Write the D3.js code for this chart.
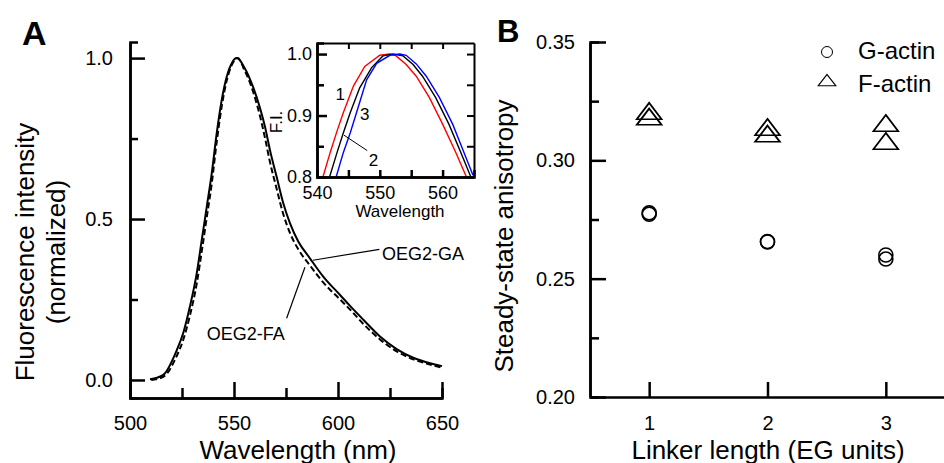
<!DOCTYPE html>
<html lang="en">
<head>
<meta charset="UTF-8" />
<title>index</title>
<script src="https://d3js.org/d3.v7.min.js"></script>
<style>
  body { margin: 0; background: white; }
  svg { display: block; font-family: "Liberation Sans", Arial, sans-serif; }
  .axis path, .axis line { stroke: black; }
</style>
</head>
<body>
<div id="chart"></div>
<script>
// ---- panel A: emission spectra (normalized) ----
var gaWave = [509.6, 516.0, 522.5, 525.6, 528.8, 532.1, 534.5, 536.9, 539.3, 541.7, 544.1, 546.5, 549.0, 551.3,
              553.0, 554.5, 557.0, 559.3, 562.5, 564.9, 567.3, 570.5, 573.7, 576.9, 580.9, 586.5, 592.9, 601.0, 605.8,
              612.2, 620.2, 628.2, 636.2, 644.2, 650.0];
var gaValue = [0.002, 0.016, 0.093, 0.146, 0.228, 0.332, 0.435, 0.538, 0.642, 0.767, 0.870, 0.942, 0.985, 1.000,
               0.992, 0.976, 0.945, 0.908, 0.845, 0.787, 0.714, 0.631, 0.549, 0.487, 0.430, 0.378, 0.321, 0.264, 0.230,
               0.187, 0.135, 0.096, 0.069, 0.052, 0.043];
var faWave = [510.2, 516.0, 522.5, 525.6, 528.8, 532.1, 534.5, 536.9, 539.3, 541.7, 544.1, 546.5, 549.2, 551.8,
              553.2, 554.5, 557.0, 559.3, 562.5, 564.9, 567.3, 570.5, 573.7, 576.9, 580.9, 586.5, 592.9, 601.0, 605.8,
              612.2, 620.2, 628.2, 636.2, 644.2, 650.0];
var faValue = [0.000, 0.010, 0.075, 0.125, 0.200, 0.300, 0.400, 0.505, 0.610, 0.740, 0.850, 0.930, 0.982, 1.000,
               0.990, 0.970, 0.935, 0.893, 0.820, 0.752, 0.677, 0.594, 0.515, 0.457, 0.406, 0.356, 0.303, 0.250, 0.219,
               0.174, 0.126, 0.089, 0.064, 0.048, 0.038];

// inset: zoom on the peak, three constructs
var inset1Wave = [540.95, 542.1, 543.2, 544.2, 545.8, 547.6, 550.0, 551.6, 552.6, 554.2, 555.8, 557.9, 560.0, 562.1, 563.8];
var inset1Value = [0.800, 0.840, 0.875, 0.905, 0.948, 0.980, 0.998, 1.000, 0.997, 0.983, 0.964, 0.929, 0.886, 0.840, 0.800];
var inset2Wave = [542.0, 543.2, 544.2, 545.3, 546.8, 548.7, 550.5, 552.1, 553.7, 555.3, 556.8, 558.9, 561.0, 562.9, 564.5];
var inset2Value = [0.800, 0.840, 0.872, 0.905, 0.945, 0.978, 0.997, 1.000, 0.997, 0.983, 0.964, 0.929, 0.886, 0.840, 0.800];
var inset3Wave = [543.05, 544.2, 545.3, 546.3, 547.9, 549.5, 551.6, 553.2, 554.2, 555.8, 557.4, 559.5, 561.6, 563.4, 564.84];
var inset3Value = [0.800, 0.840, 0.872, 0.905, 0.958, 0.985, 0.998, 1.000, 0.998, 0.984, 0.964, 0.929, 0.886, 0.840, 0.803];

// ---- panel B: anisotropy vs linker length ----
var linker = [1, 1, 2, 2, 3, 3];
var gActin = [0.2778, 0.2772, 0.2657, 0.2655, 0.2600, 0.2583];
var fActin = [0.3197, 0.3173, 0.3129, 0.3101, 0.3146, 0.3070];

var yTicksA = [0, 0.5, 1.0], yMinorA = [0.25, 0.75];
var xTicksA = [500, 550, 600, 650], xMinorA = [525, 575, 625];
var yTicksB = [0.20, 0.25, 0.30, 0.35], yMinorB = [0.225, 0.275, 0.325];
var xTicksB = [1, 2, 3];

var svg = d3.select("#chart").append("svg")
    .attr("width", 944).attr("height", 463);

function zip(xs, ys) { return xs.map(function(x, i) { return [x, ys[i]]; }); }

// ================= panel A =================
var xA = d3.scaleLinear().domain([500, 650]).range([130, 442]);
var yA = d3.scaleLinear().domain([-0.056, 1.05]).range([398, 42]);

var lineA = d3.line()
    .x(function(d) { return xA(d[0]); })
    .y(function(d) { return yA(d[1]); })
    .curve(d3.curveMonotoneX);

svg.append("path").datum(zip(faWave, faValue))
    .attr("d", lineA).attr("fill", "none").attr("stroke", "black")
    .attr("stroke-width", 2).attr("stroke-dasharray", "6,3");
svg.append("path").datum(zip(gaWave, gaValue))
    .attr("d", lineA).attr("fill", "none").attr("stroke", "black")
    .attr("stroke-width", 2);

// axes
svg.append("g").attr("class", "axis").attr("transform", "translate(130,0)")
    .call(d3.axisLeft(yA).tickValues(yMinorA).tickSize(-8).tickFormat(""));
svg.append("g").attr("class", "axis").attr("transform", "translate(130,0)")
    .call(d3.axisLeft(yA).tickValues(yTicksA).tickSizeInner(-15).tickSizeOuter(0)
      .tickPadding(17).tickFormat(d3.format(".1f")));
svg.append("g").attr("class", "axis").attr("transform", "translate(0,398)")
    .call(d3.axisBottom(xA).tickValues(xMinorA).tickSize(-10).tickFormat(""));
svg.append("g").attr("class", "axis").attr("transform", "translate(0,398)")
    .call(d3.axisBottom(xA).tickValues(xTicksA).tickSizeInner(-16).tickSizeOuter(0)
      .tickPadding(18));

// annotations
svg.append("line")
    .attr("x1", xA(619.9)).attr("y1", yA(0.406))
    .attr("x2", xA(588.0)).attr("y2", yA(0.372))
    .attr("stroke", "black").attr("stroke-width", 1.2);
svg.append("text").attr("x", xA(621.2)).attr("y", yA(0.373))
    .attr("font-size", 18).text("OEG2-GA");
svg.append("line")
    .attr("x1", xA(584.1)).attr("y1", yA(0.35))
    .attr("x2", xA(575.3)).attr("y2", yA(0.192))
    .attr("stroke", "black").attr("stroke-width", 1.2);
svg.append("text").attr("x", xA(536.9)).attr("y", yA(0.124))
    .attr("font-size", 18).text("OEG2-FA");

// axis titles
svg.append("text").attr("x", 22).attr("y", 45)
    .attr("font-size", 34).attr("font-weight", "bold").text("A");
svg.append("text").attr("x", 298).attr("y", 459).attr("text-anchor", "middle")
    .attr("font-size", 26).text("Wavelength (nm)");
var ylab = svg.append("text").attr("transform", "translate(34,252) rotate(-90)")
    .attr("text-anchor", "middle").attr("font-size", 26);
ylab.append("tspan").attr("x", 0).attr("y", 0).text("Fluorescence intensity");
ylab.append("tspan").attr("x", 0).attr("y", 31).text("(normalized)");

// ---- inset ----
var xI = d3.scaleLinear().domain([540, 565]).range([317, 474]);
var yI = d3.scaleLinear().domain([0.8, 1.018]).range([177, 43]);

svg.append("clipPath").attr("id", "insetClip").append("rect")
    .attr("x", 317).attr("y", 43).attr("width", 157).attr("height", 134);

var lineI = d3.line()
    .x(function(d) { return xI(d[0]); })
    .y(function(d) { return yI(d[1]); });

var insetSeries = [
  { color: "#ff0000", pts: zip(inset1Wave, inset1Value) },
  { color: "#000000", pts: zip(inset2Wave, inset2Value) },
  { color: "#0000ff", pts: zip(inset3Wave, inset3Value) }
];
svg.append("g").attr("clip-path", "url(#insetClip)")
  .selectAll("path").data(insetSeries).enter().append("path")
    .attr("d", function(d) { return lineI(d.pts); })
    .attr("fill", "none").attr("stroke", function(d) { return d.color; })
    .attr("stroke-width", 1.4);

var insetX = [545, 550, 555, 560], insetXLab = [540, 550, 560];
var insetY = [0.85, 0.95], insetYLab = [0.8, 0.9, 1.0];

svg.append("g").attr("class", "axis").attr("transform", "translate(0,177)")
    .call(d3.axisBottom(xI).tickValues(insetX).tickSize(-7).tickFormat(""));
svg.append("g").attr("class", "axis").attr("transform", "translate(0,177)")
    .call(d3.axisBottom(xI).tickValues(insetXLab).tickSize(0).tickPadding(9))
    .selectAll("text").attr("font-size", 18);
svg.append("g").attr("class", "axis").attr("transform", "translate(0,43)")
    .call(d3.axisTop(xI).tickValues(insetX).tickSize(-6).tickSizeOuter(0).tickFormat(""))
    .attr("data-w", 2);
svg.append("g").attr("class", "axis").attr("transform", "translate(317,0)")
    .call(d3.axisLeft(yI).tickValues(insetY).tickSize(-7).tickFormat(""));
svg.append("g").attr("class", "axis").attr("transform", "translate(317,0)")
    .call(d3.axisLeft(yI).tickValues(insetYLab).tickSizeInner(-10).tickSizeOuter(0)
      .tickPadding(5).tickFormat(d3.format(".1f")))
    .selectAll("text").attr("font-size", 18);
svg.append("g").attr("class", "axis").attr("transform", "translate(474,0)")
    .call(d3.axisRight(yI).tickValues(insetY.concat(insetYLab)).tickSize(-7).tickSizeOuter(0).tickFormat(""))
    .attr("data-w", 2);

svg.append("text").attr("transform", "translate(282,122) rotate(-90)")
    .attr("text-anchor", "middle").attr("font-size", 17).text("F.I.");
svg.append("text").attr("x", 400).attr("y", 217).attr("text-anchor", "middle")
    .attr("font-size", 17).text("Wavelength");
svg.append("text").attr("x", xI(543.7)).attr("y", yI(0.925)).attr("text-anchor", "middle")
    .attr("font-size", 17).text("1");
svg.append("text").attr("x", xI(547.6)).attr("y", yI(0.892)).attr("text-anchor", "middle")
    .attr("font-size", 17).text("3");
svg.append("line")
    .attr("x1", xI(544.3)).attr("y1", yI(0.868))
    .attr("x2", xI(548.0)).attr("y2", yI(0.843))
    .attr("stroke", "black").attr("stroke-width", 1);
svg.append("text").attr("x", xI(549.0)).attr("y", yI(0.818)).attr("text-anchor", "middle")
    .attr("font-size", 17).text("2");

// ================= panel B =================
var xB = d3.scaleLinear().domain([0.5, 3.5]).range([590, 945]);
var yB = d3.scaleLinear().domain([0.20, 0.35]).range([397, 42]);

svg.append("g").attr("class", "axis").attr("transform", "translate(590,0)")
    .call(d3.axisLeft(yB).tickValues(yMinorB).tickSize(-9).tickFormat(""));
svg.append("g").attr("class", "axis").attr("transform", "translate(590,0)")
    .call(d3.axisLeft(yB).tickValues(yTicksB).tickSizeInner(-16).tickSizeOuter(0)
      .tickPadding(15).tickFormat(d3.format(".2f")));
svg.append("g").attr("class", "axis").attr("transform", "translate(0,397)")
    .call(d3.axisBottom(xB).tickValues(xTicksB).tickSizeInner(-15).tickSizeOuter(0)
      .tickPadding(19).tickFormat(d3.format("d")));

svg.selectAll(".axis path, .axis line").attr("stroke-width", 2.5);
svg.selectAll(".axis[data-w] path, .axis[data-w] line").attr("stroke-width", 2);
svg.selectAll(".axis text").filter(function() { return !this.getAttribute("font-size"); })
    .attr("font-size", 20);
svg.selectAll(".axis text").attr("fill", "black");
svg.selectAll(".axis").attr("font-family", null).attr("font-size", null);

var tri = d3.symbol().type(d3.symbolTriangle);
svg.append("g").selectAll("circle").data(zip(linker, gActin)).enter().append("circle")
    .attr("cx", function(d) { return xB(d[0]); })
    .attr("cy", function(d) { return yB(d[1]); })
    .attr("r", 7).attr("fill", "none").attr("stroke", "black").attr("stroke-width", 1.6);
svg.append("g").selectAll("path").data(zip(linker, fActin)).enter().append("path")
    .attr("d", tri.size(170))
    .attr("transform", function(d) { return "translate(" + xB(d[0]) + "," + yB(d[1]) + ") scale(1.25,0.95)"; })
    .attr("fill", "none").attr("stroke", "black").attr("stroke-width", 1.6);

// legend
svg.append("circle").attr("cx", 827).attr("cy", 52).attr("r", 5.5)
    .attr("fill", "none").attr("stroke", "black").attr("stroke-width", 1);
svg.append("text").attr("x", 858).attr("y", 59).attr("font-size", 24).text("G-actin");
svg.append("path").attr("d", tri.size(80))
    .attr("transform", "translate(827,82) scale(1.3,0.95)")
    .attr("fill", "none").attr("stroke", "black").attr("stroke-width", 1);
svg.append("text").attr("x", 858).attr("y", 92).attr("font-size", 24).text("F-actin");

svg.append("text").attr("x", 497).attr("y", 42)
    .attr("font-size", 31).attr("font-weight", "bold").text("B");
svg.append("text").attr("x", 768).attr("y", 459).attr("text-anchor", "middle")
    .attr("font-size", 26).text("Linker length (EG units)");
svg.append("text").attr("transform", "translate(513,236) rotate(-90)")
    .attr("text-anchor", "middle").attr("font-size", 26).text("Steady-state anisotropy");
</script>
</body>
</html>
